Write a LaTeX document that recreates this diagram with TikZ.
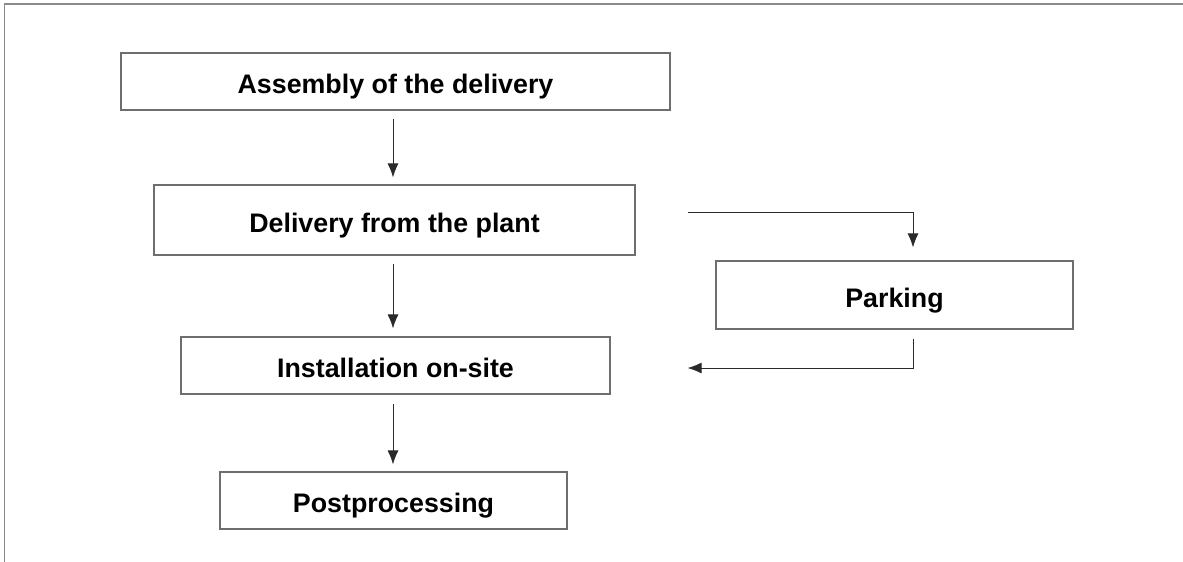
\documentclass[tikz,border=0pt]{standalone}
\usepackage{fontspec}
\setmainfont{Liberation Sans}
\usetikzlibrary{arrows.meta}
\definecolor{framegray}{HTML}{8A8A8A}
\definecolor{boxgray}{HTML}{6E6E6E}
\definecolor{arrgray}{HTML}{2A2A2A}
\begin{document}
\begin{tikzpicture}[x=1pt,y=-1pt,
  stepbox/.style={draw=boxgray, line width=1.2pt, fill=white, inner sep=0pt,
    text height=24.4pt, text depth=0pt,
    font=\fontsize{26.8}{30}\selectfont\bfseries},
  arr/.style={draw=arrgray, line width=0.9pt, -{Latex[length=14pt,width=11pt]}}]
\useasboundingbox (0,0) rectangle (1183,562);
\draw[framegray, line width=1.4pt] (4.7,562) -- (4.7,4) -- (1183,4);
\node[stepbox, minimum width=549pt, minimum height=57pt] (A) at (395.5,81.5) {Assembly of the delivery};
\node[stepbox, minimum width=481pt, minimum height=70pt] (D) at (394.5,220) {Delivery from the plant};
\node[stepbox, minimum width=357pt, minimum height=68pt] (P) at (894.5,295) {Parking};
\node[stepbox, minimum width=429pt, minimum height=57pt] (I) at (395.5,365.5) {Installation on-site};
\node[stepbox, minimum width=347pt, minimum height=57pt] (S) at (393.5,500.5) {Postprocessing};
\draw[arr, shorten <=8pt, shorten >=7pt] ([xshift=-2.5pt]A.south) -- ([xshift=-1.5pt]D.north);
\draw[arr, shorten <=8pt, shorten >=8pt] ([xshift=-1.5pt]D.south) -- ([xshift=-2.5pt]I.north);
\draw[arr, shorten <=9pt, shorten >=7pt] ([xshift=-2.5pt]I.south) -- ([xshift=-0.5pt]S.north);
\draw[arr] ([xshift=52pt,yshift=8pt]D.east) -| ([xshift=18.5pt,yshift=13pt]P.north);
\draw[arr] ([xshift=18.5pt,yshift=-9pt]P.south) |- ([xshift=77pt,yshift=-2.5pt]I.east);
\end{tikzpicture}
\end{document}
